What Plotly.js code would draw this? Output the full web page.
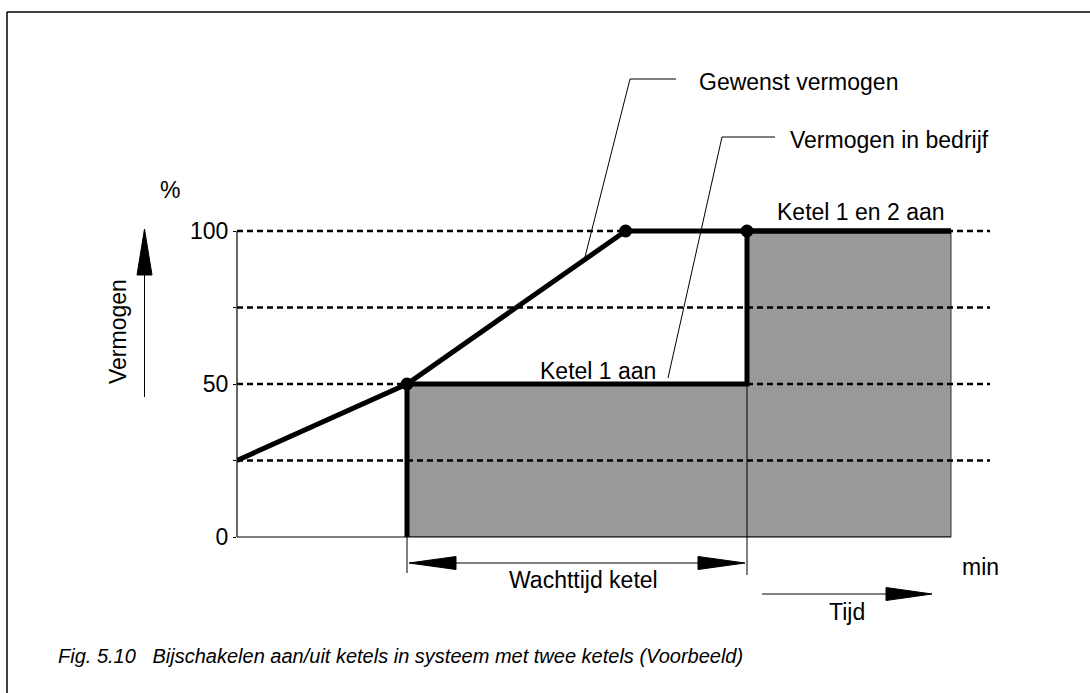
<!DOCTYPE html>
<html>
<head>
<meta charset="utf-8">
<script src="https://cdn.plot.ly/plotly-3.0.1.min.js"></script>
<style>html,body{margin:0;padding:0;background:#fff}#chart{width:1090px;height:693px}</style>
</head>
<body>
<div id="chart"></div>
<script>
// ---- data ----
const levels = [25, 50, 75, 100];
const gewenstX = [0, 5, 11.43, 21];
const gewenstY = [25, 50, 100, 100];
const bedrijfX = [5, 5, 15, 15, 21];
const bedrijfY = [0, 50, 50, 100, 100];
const fillX = [5, 5, 15, 15, 21, 21, 5];
const fillY = [0, 50, 50, 100, 100, 0, 0];
const dotX = [5, 11.43, 15];
const dotY = [50, 100, 100];
const yTickVals = [0, 25, 50, 75, 100];
const yTickText = ['0', '', '50', '', '100'];
const wachtStart = 5, wachtEnd = 15;
const xEnd = 21;
const yTop = 100;

// ---- layout geometry ----
const W = 1090, H = 693;
const YPX = 3.06;                       // pixels per % unit
const L = 237, R = 100, B = 156, T = 223;
const PW = W - L - R, PH = H - T - B;
const XMAX = PW / 34;
const YMAX = PH / YPX;
const FONT = 'Liberation Sans, Arial, sans-serif';
const px = p => (p - L) / PW;          // pixel x -> paper
const py = p => (H - B - p) / PH;      // pixel y -> paper
const dx = d => d / XMAX;              // data x -> paper
const dy = d => d / YMAX;              // data y -> paper

const traces = [
  {x: fillX, y: fillY, mode: 'lines', fill: 'toself', fillcolor: '#999999',
   line: {color: '#333333', width: 1}, hoverinfo: 'skip', cliponaxis: false},
];
levels.forEach(v => traces.push({
  x: [0, XMAX], y: [v, v], mode: 'lines', line: {color: '#000', width: 2.5, dash: '6px,4px'},
  hoverinfo: 'skip', cliponaxis: false
}));
traces.push({x: bedrijfX, y: bedrijfY, mode: 'lines', line: {color: '#000', width: 5},
  cliponaxis: false, name: 'Vermogen in bedrijf'});
traces.push({x: gewenstX, y: gewenstY, mode: 'lines', line: {color: '#000', width: 5},
  cliponaxis: false, name: 'Gewenst vermogen'});
traces.push({x: dotX, y: dotY, mode: 'markers', marker: {color: '#000', size: 13},
  cliponaxis: false});

function arrowHead(tipX, tipY, dirX, dirY, len, half) {
  const bx = tipX - dirX * len, by = tipY - dirY * len;
  const nx = -dirY, ny = dirX;
  const p1 = [bx + nx * half, by + ny * half], p2 = [bx - nx * half, by - ny * half];
  return `M${px(tipX)},${py(tipY)} L${px(p1[0])},${py(p1[1])} L${px(p2[0])},${py(p2[1])} Z`;
}
const line = (x0, y0, x1, y1, w) => ({type: 'line', xref: 'paper', yref: 'paper',
  x0: px(x0), y0: py(y0), x1: px(x1), y1: py(y1), line: {color: '#000', width: w || 1}});
const head = (path) => ({type: 'path', xref: 'paper', yref: 'paper', path: path,
  fillcolor: '#000', line: {color: '#000', width: 1}});

const xPix = d => L + dx(d) * PW;
const yPix = d => H - B - dy(d) * PH;
const x5 = xPix(wachtStart), x15 = xPix(wachtEnd), x21 = xPix(xEnd);
const y0p = yPix(0), y50p = yPix(50), y100p = yPix(yTop);

const shapes = [
  // frame
  line(7, 12, 1090, 12, 1.5),
  line(7, 12, 7, 693, 1.5),
  // axes
  line(L, y0p, x21, y0p, 1.2),
  line(L, y0p, L, y100p, 1.2),
  // extension lines
  line(x5, y0p, x5, 573, 1),
  line(x15, y50p, x15, 575, 1),
  // Wachttijd dimension arrow
  line(x5 + 20, 563, x15 - 20, 563, 1),
  head(arrowHead(x5 + 2, 563, -1, 0, 47, 6.5)),
  head(arrowHead(x15 - 2, 563, 1, 0, 47, 6.5)),
  // Tijd arrow
  line(762, 594, 900, 594, 1),
  head(arrowHead(932, 594, 1, 0, 46, 6.5)),
  // Vermogen arrow
  line(144.5, 397, 144.5, 260, 1),
  head(arrowHead(144.5, 229, 0, -1, 46, 7.5)),
  // leader lines
  line(676, 79, 630, 79, 1),
  line(630, 79, 584, 261, 1),
  line(775, 137, 722, 137, 1),
  line(722, 137, 668, 378, 1),
];

const ann = (text, x, y, xanchor, size, extra) => Object.assign({
  text: text, xref: 'paper', yref: 'paper', x: px(x), y: py(y), xanchor: xanchor || 'center',
  yanchor: 'middle', showarrow: false, font: {family: FONT, size: size || 23, color: '#000'}
}, extra || {});

const annotations = [
  ann('Gewenst vermogen', 697, 82, 'left'),
  ann('Vermogen in bedrijf', 788, 140, 'left'),
  ann('Ketel 1 en 2 aan', 861, 212),
  ann('Ketel 1 aan', 598, 371),
  ann('Wachttijd ketel', 583, 580),
  ann('Tijd', 847, 612),
  ann('min', 980, 567),
  ann('%', 170, 190),
  ann('Vermogen', 118, 332, 'center', 23, {textangle: -90}),
  ann('<i>Fig. 5.10\u00a0\u00a0\u00a0Bijschakelen aan/uit ketels in systeem met twee ketels (Voorbeeld)</i>',
      56, 656, 'left', 20),
];

const layout = {
  width: W, height: H,
  margin: {l: L, r: R, t: T, b: B, pad: 0},
  paper_bgcolor: '#fff', plot_bgcolor: 'rgba(0,0,0,0)',
  showlegend: false,
  font: {family: FONT, color: '#000'},
  xaxis: {range: [0, XMAX], visible: false, fixedrange: true},
  yaxis: {range: [0, YMAX], showgrid: false, zeroline: false, showline: false,
    ticks: 'outside', ticklen: 3, tickcolor: '#000',
    tickvals: yTickVals, ticktext: yTickText, tickfont: {family: FONT, size: 23, color: '#000'},
    fixedrange: true},
  shapes: shapes,
  annotations: annotations,
};

Plotly.newPlot('chart', traces, layout, {displayModeBar: false, staticPlot: true});
</script>
</body>
</html>
